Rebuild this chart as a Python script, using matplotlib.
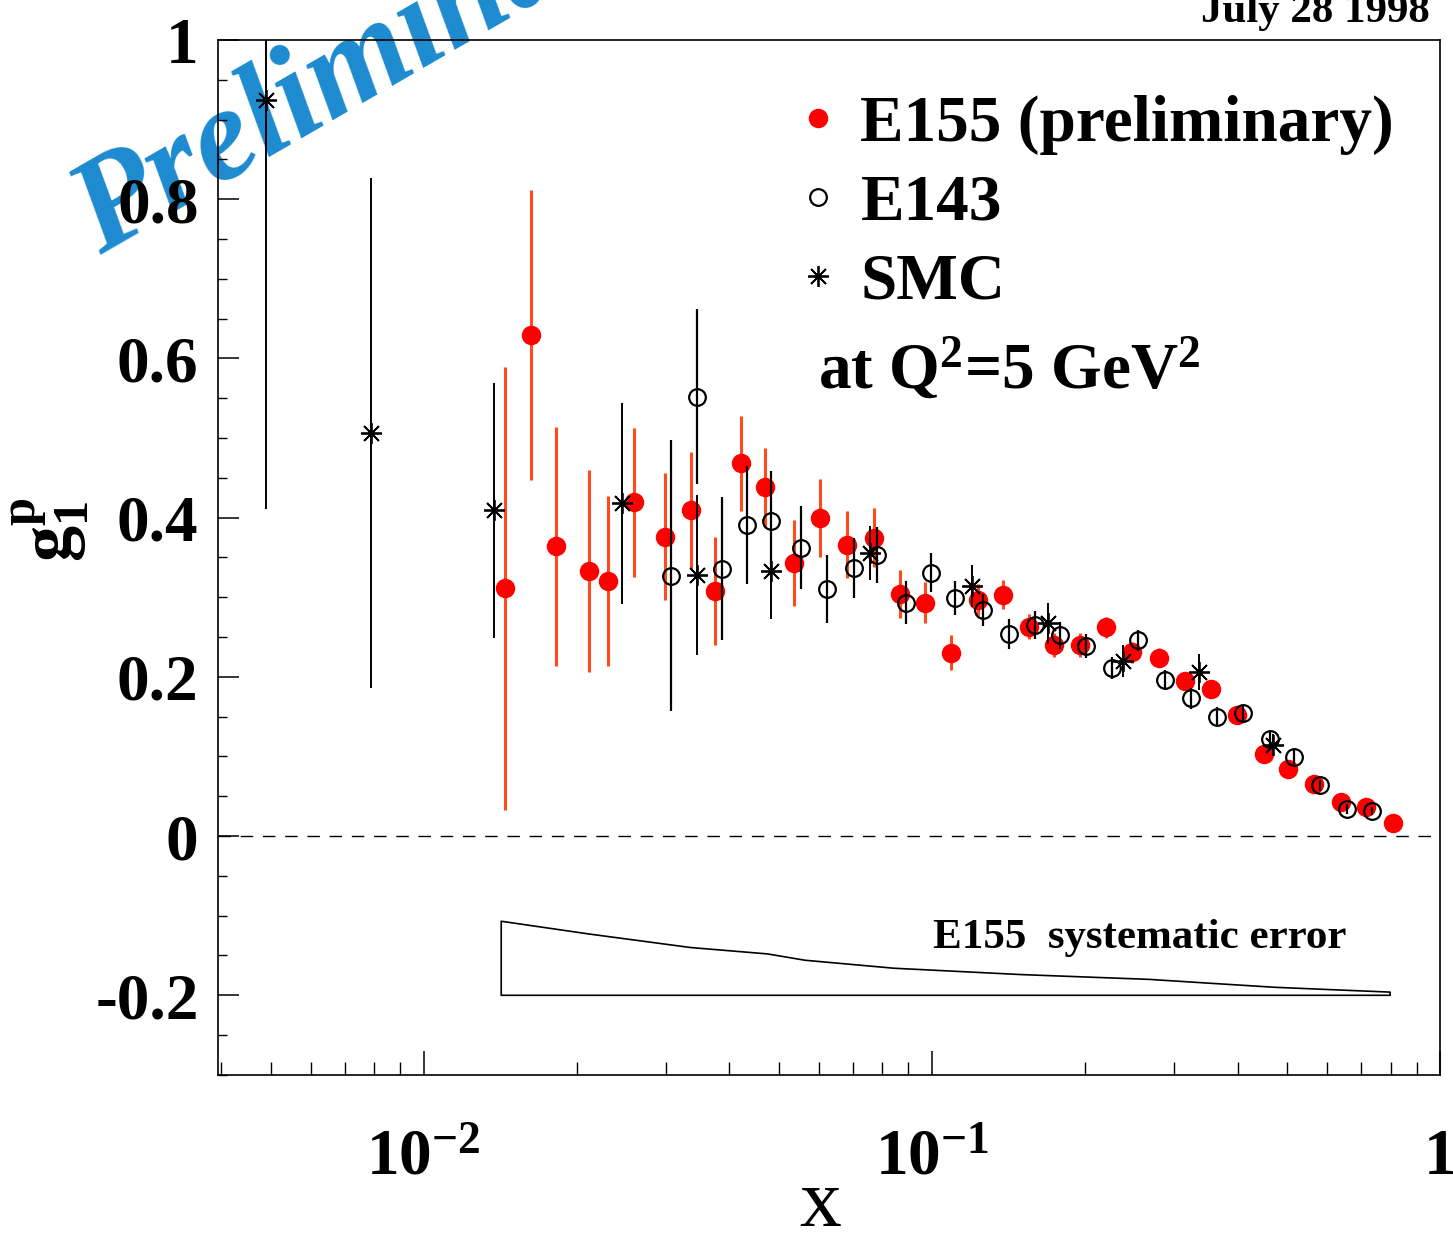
import matplotlib
matplotlib.use('Agg')
import matplotlib.pyplot as plt
from matplotlib.lines import Line2D
from matplotlib.ticker import FixedLocator, MultipleLocator, LogLocator, NullFormatter

plt.rcParams['font.family'] = 'Liberation Serif'
plt.rcParams['font.weight'] = 'bold'
plt.rcParams['mathtext.fontset'] = 'custom'
plt.rcParams['mathtext.rm'] = 'Liberation Serif:bold'
plt.rcParams['mathtext.it'] = 'Liberation Serif:bold:italic'
plt.rcParams['mathtext.bf'] = 'Liberation Serif:bold'

# %% data (g1p at Q^2 = 5 GeV^2)
e155_x = [0.01448, 0.01628, 0.01823, 0.02116, 0.02306, 0.02593, 0.02982, 0.03353,
          0.03753, 0.04221, 0.04704, 0.05363, 0.06031, 0.06813, 0.07696, 0.08659,
          0.0969, 0.109, 0.1231, 0.1384, 0.1557, 0.1743, 0.196, 0.2204, 0.2478,
          0.28, 0.3148, 0.354, 0.3981, 0.4497, 0.5035, 0.5662, 0.6396, 0.7161, 0.8088]
e155_y = [0.311, 0.629, 0.364, 0.333, 0.320, 0.419, 0.376, 0.409, 0.308, 0.468,
          0.438, 0.343, 0.400, 0.366, 0.375, 0.304, 0.293, 0.230, 0.297, 0.303,
          0.263, 0.240, 0.240, 0.262, 0.231, 0.224, 0.195, 0.185, 0.152, 0.103,
          0.084, 0.066, 0.043, 0.036, 0.016]
e155_err = [0.278, 0.182, 0.15, 0.127, 0.107, 0.094, 0.08, 0.073, 0.068, 0.06,
            0.05, 0.054, 0.049, 0.042, 0.037, 0.03, 0.026, 0.022, 0.02, 0.018,
            0.016, 0.015, 0.015, 0.013, 0.013, 0.012, 0.011, 0.01, 0.009, 0.008,
            0.007, 0.006, 0.005, 0.004, 0.003]

e143_x = [0.03064, 0.03445, 0.03858, 0.04338, 0.04833, 0.05535, 0.06224, 0.07033,
          0.078, 0.08892, 0.09954, 0.111, 0.1259, 0.1422, 0.1599, 0.179, 0.2013,
          0.2264, 0.2546, 0.2876, 0.3235, 0.3638, 0.409, 0.4621, 0.5172, 0.5816,
          0.6571, 0.7356]
e143_y = [0.327, 0.552, 0.336, 0.391, 0.396, 0.362, 0.310, 0.337, 0.353, 0.293,
          0.331, 0.299, 0.284, 0.254, 0.265, 0.252, 0.239, 0.211, 0.246, 0.196,
          0.173, 0.150, 0.154, 0.122, 0.099, 0.064, 0.034, 0.031]
e143_err = [0.17, 0.11, 0.09, 0.074, 0.063, 0.052, 0.043, 0.038, 0.035, 0.027,
            0.024, 0.021, 0.02, 0.019, 0.018, 0.017, 0.015, 0.014, 0.013, 0.013,
            0.013, 0.012, 0.011, 0.01, 0.009, 0.007, 0.006, 0.005]

smc_x = [0.004899, 0.007871, 0.01378, 0.02456, 0.03445, 0.04833, 0.07557, 0.1198,
         0.1696, 0.2379, 0.3353, 0.4684]
smc_y = [0.925, 0.506, 0.409, 0.418, 0.328, 0.333, 0.355, 0.314, 0.267, 0.220,
         0.206, 0.114]
smc_err = [0.514, 0.32, 0.16, 0.126, 0.1, 0.06, 0.034, 0.026, 0.026, 0.02, 0.023, 0.014]

# E155 systematic error band (drawn on top of y = -0.2)
syst_x = [0.01422, 0.02116, 0.03353, 0.04748, 0.05636, 0.08425, 0.1502, 0.2677,
          0.3556, 0.4749, 0.798]
syst_err = [0.093, 0.077, 0.060, 0.052, 0.044, 0.034, 0.026, 0.020, 0.015, 0.010, 0.004]
syst_base = -0.2

ytick_vals = [-0.2, 0, 0.2, 0.4, 0.6, 0.8, 1.0]
ytick_labels = ['-0.2', '0', '0.2', '0.4', '0.6', '0.8', '1']
xtick_vals = [0.01, 0.1, 1.0]
xtick_labels = [r'$10^{-2}$', r'$10^{-1}$', '1']

# %% figure
fig = plt.figure(figsize=(14.53, 12.47), dpi=100)
ax = fig.add_axes([0.150, 0.138, 0.841, 0.830])
ax.set_facecolor('none')  # let the watermark show through under the data

ax.errorbar(e155_x, e155_y, yerr=e155_err, fmt='o', ms=13, color='#ff0000',
            ecolor='#ff4a1c', elinewidth=2.2, capsize=0, zorder=3)
ax.errorbar(e143_x, e143_y, yerr=e143_err, fmt='o', ms=12, mfc='none', mec='k',
            mew=1.6, ecolor='k', elinewidth=1.6, capsize=0, zorder=4)
ax.errorbar(smc_x, smc_y, yerr=smc_err, fmt='none', ecolor='k', elinewidth=1.4,
            capsize=0, zorder=5)
ax.plot(smc_x, smc_y, ls='none', marker=(8, 2, 0), ms=15, mec='k', mew=1.3, zorder=6)

ax.axhline(0, color='k', lw=1, dashes=(9, 7), zorder=1)
ax.fill_between(syst_x, syst_base, [syst_base + e for e in syst_err],
                facecolor='none', edgecolor='k', lw=1.2)

ax.set_xscale('log')
ax.set_xlim(0.00394, 1.0)
ax.set_ylim(-0.3, 1.0)

ax.yaxis.set_major_locator(FixedLocator(ytick_vals))
ax.yaxis.set_minor_locator(MultipleLocator(0.05))
ax.set_yticklabels(ytick_labels, fontsize=47)
ax.xaxis.set_major_locator(FixedLocator(xtick_vals))
ax.xaxis.set_minor_locator(LogLocator(base=10, subs=range(2, 10)))
ax.xaxis.set_minor_formatter(NullFormatter())
ax.set_xticklabels(xtick_labels, fontsize=47)

ax.tick_params(axis='y', which='major', direction='in', length=15, width=1.1, pad=14,
               right=False)
ax.tick_params(axis='y', which='minor', direction='in', length=6.5, width=1, right=False)
ax.tick_params(axis='x', which='major', direction='in', length=17, width=1.1, pad=38,
               top=False)
ax.tick_params(axis='x', which='minor', direction='in', length=9.5, width=1, top=False)
for s in ax.spines.values():
    s.set_linewidth(1.2)

ax.set_xlabel('x', fontsize=60)
ax.xaxis.set_label_coords(0.493, -0.090)
ax.set_ylabel(r'$\mathrm{g}_\mathrm{1}^\mathrm{p}$', fontsize=52)
ax.yaxis.set_label_coords(-0.104, 0.527)

# %% legend and labels
handles = [Line2D([], [], ls='none', marker='o', ms=13, color='#ff0000'),
           Line2D([], [], ls='none', marker='o', ms=12, mfc='none', mec='k', mew=1.6),
           Line2D([], [], ls='none', marker=(8, 2, 0), ms=15, mec='k', mew=1.3)]
ax.legend(handles, ['E155 (preliminary)', 'E143', 'SMC'], loc='upper left',
          bbox_to_anchor=(0.475, 0.947), frameon=False, fontsize=47,
          handlelength=0.6, handletextpad=0.35, labelspacing=0.29,
          borderpad=0, borderaxespad=0)
ax.text(0.491, 0.664, r'at Q$^2$=5 GeV$^2$', transform=ax.transAxes,
        fontsize=47, ha='left', va='baseline')
ax.text(0.585, 0.1227, 'E155  systematic error', transform=ax.transAxes,
        fontsize=31, ha='left', va='baseline')

fig.text(1430 / 1453, 1 - 22 / 1247, 'July 28 1998', fontsize=31, ha='right',
         va='baseline')
fig.text(100 / 1453, 1 - 255 / 1247, 'Preliminary', family='Liberation Serif',
         style='italic', weight='bold', fontsize=96, color='#1d8ad0', rotation=30,
         rotation_mode='anchor', ha='left', va='baseline', zorder=-1)

fig.savefig('out.png', dpi=100)
